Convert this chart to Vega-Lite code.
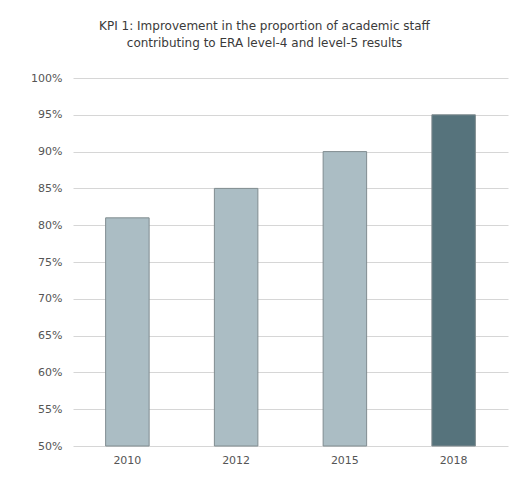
{
  "$schema": "https://vega.github.io/schema/vega-lite/v6.json",
  "autosize": {"type": "none"},
  "padding": {"left": 73, "top": 78, "right": 11, "bottom": 35},
  "width": 435,
  "height": 368,
  "background": "white",
  "title": {
    "text": ["KPI 1: Improvement in the proportion of academic staff", "contributing to ERA level-4 and level-5 results"],
    "anchor": "middle",
    "frame": "group",
    "dx": -26,
    "offset": 22,
    "font": "DejaVu Sans",
    "fontSize": 12,
    "fontWeight": "normal",
    "color": "#3a3a3a",
    "lineHeight": 17
  },
  "data": {
    "values": [
      {"year": "2010", "value": 0.81},
      {"year": "2012", "value": 0.85},
      {"year": "2015", "value": 0.90},
      {"year": "2018", "value": 0.95}
    ]
  },
  "mark": {"type": "bar", "stroke": "#808c90", "strokeWidth": 1},
  "encoding": {
    "x": {
      "field": "year",
      "type": "nominal",
      "sort": null,
      "scale": {"paddingInner": 0.6, "paddingOuter": 0.3},
      "axis": {
        "title": null,
        "labelAngle": 0,
        "ticks": false,
        "domain": false,
        "labelPadding": 8,
        "labelFont": "DejaVu Sans",
        "labelFontSize": 11,
        "labelColor": "#555555"
      }
    },
    "y": {
      "field": "value",
      "type": "quantitative",
      "scale": {"domain": [0.5, 1], "zero": false, "clamp": true},
      "axis": {
        "title": null,
        "format": ".0%",
        "values": [0.5, 0.55, 0.6, 0.65, 0.7, 0.75, 0.8, 0.85, 0.9, 0.95, 1.0],
        "ticks": false,
        "domain": false,
        "labelPadding": 11,
        "labelFont": "DejaVu Sans",
        "labelFontSize": 11,
        "labelColor": "#555555",
        "grid": true,
        "gridColor": "#d6d6d6",
        "gridWidth": 1
      }
    },
    "color": {
      "field": "year",
      "type": "nominal",
      "legend": null,
      "scale": {"domain": ["2010", "2012", "2015", "2018"], "range": ["#abbdc4", "#abbdc4", "#abbdc4", "#56737c"]}
    }
  },
  "config": {"view": {"stroke": null}}
}
